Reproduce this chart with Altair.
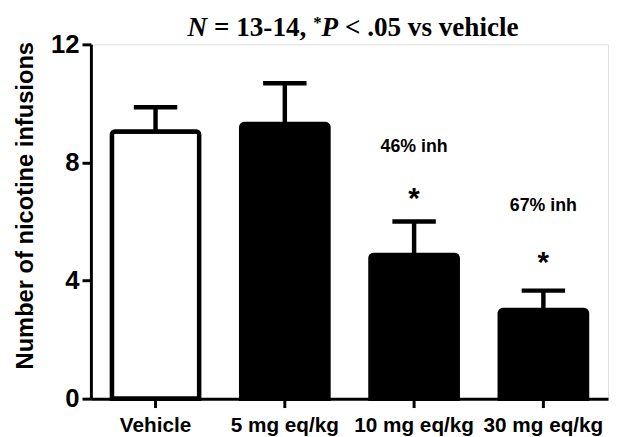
import altair as alt
import pandas as pd

groups = ["Vehicle", "5 mg eq/kg", "10 mg eq/kg", "30 mg eq/kg"]
means = [9.05, 9.3, 4.87, 3.0]
sems = [0.82, 1.38, 1.13, 0.66]
fills = ["white", "black", "black", "black"]

ann_groups = ["10 mg eq/kg", "30 mg eq/kg"]
ann_text = ["46% inh", "67% inh"]
ann_text_y = [8.36, 6.35]
ann_star_y = [6.47, 4.29]

title_parts = ["N", " = 13-14, ", "*", "P", " < .05 vs vehicle"]

df = pd.DataFrame({
    "group": groups,
    "mean": means,
    "upper": [m + s for m, s in zip(means, sems)],
    "fill": fills,
})
ann = pd.DataFrame({"group": ann_groups, "text": ann_text,
                    "ty": ann_text_y, "sy": ann_star_y})

W, H = 524, 359
SANS = "Liberation Sans"
SERIF = "Liberation Serif"

xscale = alt.Scale(domain=groups, paddingInner=0.325, paddingOuter=0.1625)
yscale = alt.Scale(domain=[0, 12], nice=False)

x_enc = alt.X("group:N", scale=xscale, sort=groups, title=None,
              axis=alt.Axis(labelAngle=0, labelFont=SANS, labelFontWeight="bold",
                            labelFontSize=21, labelColor="black", labelPadding=7,
                            tickSize=9, tickWidth=3, tickColor="black",
                            domainWidth=3, domainColor="black", grid=False))
y_enc = alt.Y("mean:Q", scale=yscale,
              title="Number of nicotine infusions",
              axis=alt.Axis(values=[0, 4, 8, 12], labelFont=SANS, labelFontWeight="bold",
                            labelFontSize=26, labelColor="black", labelPadding=3,
                            tickSize=9, tickWidth=3, tickColor="black",
                            domainWidth=3, domainColor="black", grid=False,
                            titleFont=SANS, titleFontWeight="bold", titleFontSize=24,
                            titleColor="black", titleAngle=-90, titleAlign="center",
                            titleBaseline="alphabetic", titleX=-59, titleY=163))

base = alt.Chart(df)

bars = base.mark_bar(stroke="black", strokeWidth=4.5,
                     cornerRadiusTopLeft=3, cornerRadiusTopRight=3).encode(
    x=x_enc, y=y_enc, fill=alt.Fill("fill:N", scale=None))

stems = base.mark_rule(color="black", strokeWidth=4.5).encode(
    x=alt.X("group:N", scale=xscale, sort=groups),
    y=alt.Y("mean:Q", scale=yscale), y2="upper:Q")

caps = base.mark_tick(color="black", thickness=4.5, size=44, opacity=1).encode(
    x=alt.X("group:N", scale=xscale, sort=groups),
    y=alt.Y("upper:Q", scale=yscale))

ann_base = alt.Chart(ann)
pct = ann_base.mark_text(font=SANS, fontWeight="bold", fontSize=18, color="black",
                         baseline="alphabetic", align="center").encode(
    x=alt.X("group:N", scale=xscale, sort=groups),
    y=alt.Y("ty:Q", scale=yscale), text="text:N")
stars = ann_base.mark_text(font=SANS, fontWeight="bold", fontSize=30, color="black",
                           baseline="alphabetic", align="center", text="*").encode(
    x=alt.X("group:N", scale=xscale, sort=groups),
    y=alt.Y("sy:Q", scale=yscale))

# title pieces (Times-like metrics, units per 1000)
metrics = {"N": 722, "P": 611, " ": 250, "=": 570, "1": 500, "3": 500, "-": 333,
           "4": 500, ",": 250, "*": 500, "<": 570, ".": 250, "0": 500, "5": 500,
           "v": 500, "s": 389, "e": 444, "h": 556, "i": 278, "c": 444, "l": 278}
main_size, sup_size = 27.5, 17
styles = [("italic", main_size, 0), ("normal", main_size, 0), ("normal", sup_size, -9),
          ("italic", main_size, 0), ("normal", main_size, 0)]
title_layers = []
xpos = 98.0
for part, (style, fs, dy) in zip(title_parts, styles):
    stripped = part.strip()
    lead = len(part) - len(part.lstrip())
    x_draw = xpos + lead * metrics[" "] / 1000 * fs
    title_layers.append(
        alt.Chart(pd.DataFrame({"t": [stripped]})).mark_text(
            font=SERIF, fontWeight="bold", fontStyle=style, fontSize=fs, color="black",
            align="left", baseline="alphabetic").encode(
            text="t:N", x=alt.value(x_draw), y=alt.value(-8 + dy)))
    xpos += sum(metrics[c] for c in part) / 1000 * fs

chart = alt.layer(bars, stems, caps, pct, stars, *title_layers).properties(
    width=W, height=H,
    autosize=alt.AutoSizeParams(type="none"),
    padding={"left": 84, "top": 34, "right": 2, "bottom": 36},
).configure_view(stroke=None).configure(background="white")

chart.save("out.html", embed_options={"renderer": "svg", "actions": False})
